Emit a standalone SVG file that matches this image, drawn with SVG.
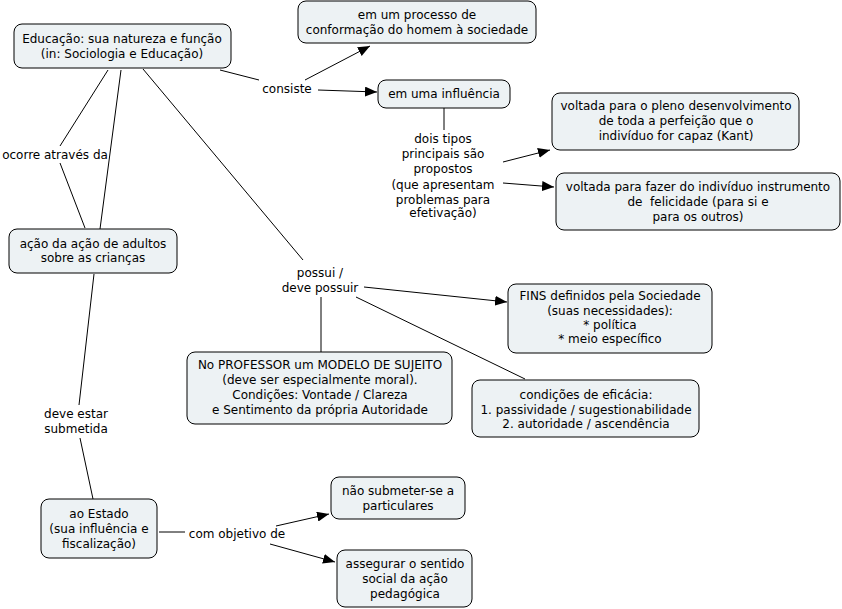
<svg xmlns="http://www.w3.org/2000/svg" width="842" height="609" viewBox="0 0 842 609">
<style>
.n rect{fill:#edf2f4;stroke:#000;stroke-width:1}
text{font-family:"DejaVu Sans",Verdana,sans-serif;font-size:12px;fill:#000;text-anchor:middle}
.c line{stroke:#000;stroke-width:1}
</style>
<defs>
<marker id="a" viewBox="0 0 12 10" refX="12" refY="5" markerWidth="12" markerHeight="10" markerUnits="userSpaceOnUse" orient="auto">
<path d="M0,0 L12,5 L0,10 z" fill="#000"/>
</marker>
</defs>
<rect width="842" height="609" fill="#fff"/>
<g class="c">
<line x1="220" y1="70" x2="259" y2="80"/>
<line x1="305" y1="80" x2="370" y2="46" marker-end="url(#a)"/>
<line x1="318" y1="90" x2="377" y2="92" marker-end="url(#a)"/>
<line x1="444" y1="108" x2="444" y2="130"/>
<line x1="503" y1="162" x2="550" y2="150" marker-end="url(#a)"/>
<line x1="503" y1="183" x2="554" y2="187" marker-end="url(#a)"/>
<line x1="143" y1="69" x2="303" y2="260"/>
<line x1="108" y1="70" x2="60" y2="146"/>
<line x1="60" y1="163" x2="85" y2="228"/>
<line x1="121" y1="70" x2="100" y2="229"/>
<line x1="94" y1="274" x2="79" y2="405"/>
<line x1="80" y1="438" x2="93" y2="499"/>
<line x1="159" y1="532" x2="185" y2="532"/>
<line x1="276" y1="526" x2="329" y2="514" marker-end="url(#a)"/>
<line x1="270" y1="544" x2="335" y2="562" marker-end="url(#a)"/>
<line x1="364" y1="287" x2="507" y2="302" marker-end="url(#a)"/>
<line x1="321" y1="297" x2="321" y2="352"/>
<line x1="356" y1="297" x2="525" y2="379"/>
</g>
<g id="educacao" class="n"><rect x="14" y="24" width="217" height="44" rx="8"/>
<text x="122" y="43">Educação: sua natureza e função</text><text x="122" y="58">(in: Sociologia e Educação)</text></g>
<g id="processo" class="n"><rect x="298" y="1" width="238" height="42" rx="8"/>
<text x="417" y="19">em um processo de</text><text x="417" y="34">conformação do homem à sociedade</text></g>
<g id="influencia" class="n"><rect x="378" y="80" width="132" height="28" rx="8"/>
<text x="444" y="98">em uma influência</text></g>
<g id="pleno" class="n"><rect x="552" y="93" width="247" height="57" rx="8"/>
<text x="676" y="110">voltada para o pleno desenvolvimento</text><text x="676" y="125">de toda a perfeição que o</text><text x="676" y="140">indivíduo for capaz (Kant)</text></g>
<g id="fazer" class="n"><rect x="556" y="173" width="284" height="57" rx="8"/>
<text x="698" y="191">voltada para fazer do indivíduo instrumento</text><text x="698" y="206">de&#160; felicidade (para si e</text><text x="698" y="221">para os outros)</text></g>
<g id="acao" class="n"><rect x="9" y="229" width="168" height="44" rx="8"/>
<text x="93" y="248">ação da ação de adultos</text><text x="93" y="262">sobre as crianças</text></g>
<g id="fins" class="n"><rect x="508" y="284" width="204" height="69" rx="8"/>
<text x="610" y="300">FINS definidos pela Sociedade</text><text x="610" y="315">(suas necessidades):</text><text x="610" y="329">* política</text><text x="610" y="343">* meio específico</text></g>
<g id="professor" class="n"><rect x="187" y="352" width="265" height="72" rx="8"/>
<text x="320" y="369">No PROFESSOR um MODELO DE SUJEITO</text><text x="320" y="384">(deve ser especialmente moral).</text><text x="320" y="399">Condições: Vontade / Clareza</text><text x="320" y="414">e Sentimento da própria Autoridade</text></g>
<g id="eficacia" class="n"><rect x="472" y="380" width="227" height="57" rx="8"/>
<text x="586" y="399">condições de eficácia:</text><text x="586" y="414">1. passividade / sugestionabilidade</text><text x="586" y="428">2. autoridade / ascendência</text></g>
<g id="estado" class="n"><rect x="41" y="499" width="116" height="59" rx="8"/>
<text x="99" y="518">ao Estado</text><text x="99" y="533">(sua influência e</text><text x="99" y="548">fiscalização)</text></g>
<g id="particulares" class="n"><rect x="331" y="477" width="134" height="42" rx="8"/>
<text x="398" y="495">não submeter-se a</text><text x="398" y="510">particulares</text></g>
<g id="assegurar" class="n"><rect x="337" y="550" width="135" height="57" rx="8"/>
<text x="405" y="568">assegurar o sentido</text><text x="405" y="583">social da ação</text><text x="405" y="598">pedagógica</text></g>
<g id="labels">
<text x="287" y="93">consiste</text>
<text x="443" y="143">dois tipos</text><text x="443" y="158">principais são</text><text x="443" y="173">propostos</text><text x="443" y="189">(que apresentam</text><text x="443" y="204">problemas para</text><text x="443" y="217">efetivação)</text>
<text x="55" y="159">ocorre através da</text>
<text x="320" y="277">possui /</text><text x="320" y="292">deve possuir</text>
<text x="76" y="418">deve estar</text><text x="76" y="433">submetida</text>
<text x="237" y="538">com objetivo de</text>
</g>
</svg>
